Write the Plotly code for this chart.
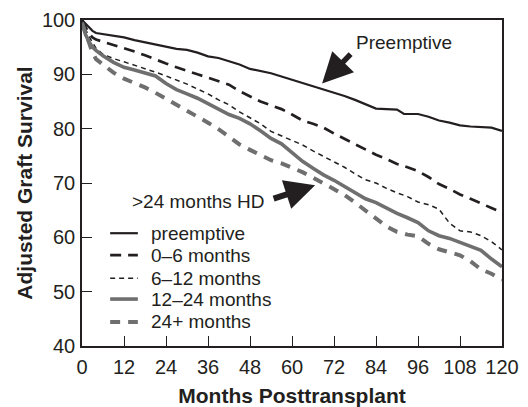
import plotly.graph_objects as go

months_pre = [0, 1, 2, 3, 4, 6, 9, 12, 15, 18, 21, 24, 27, 30, 33, 36, 39, 42, 45, 48, 51, 54, 57, 60,
              63, 66, 69, 72, 75, 78, 81, 84, 87, 90, 92, 96, 99, 102, 105, 108, 111, 114, 117, 120]
preemptive = [100, 99.3, 98.6, 98.0, 97.6, 97.4, 97.1, 96.8, 96.3, 95.9, 95.5, 95.2, 94.7, 94.5, 94.0,
              93.3, 93.0, 92.4, 91.8, 91.0, 90.6, 90.2, 89.6, 89.0, 88.4, 87.9, 87.3, 86.7, 86.0, 85.3,
              84.5, 83.7, 83.6, 83.5, 82.7, 82.7, 82.2, 81.5, 81.1, 80.6, 80.4, 80.3, 80.2, 79.6]

months = [0, 1, 2, 3, 4, 6, 9, 12, 15, 18, 21, 24, 27, 30, 33, 36, 39, 42, 45, 48, 51, 54, 57, 60,
          63, 66, 69, 72, 75, 78, 81, 84, 87, 90, 93, 96, 99, 102, 105, 108, 111, 114, 117, 120]
m0_6 = [100, 98.6, 97.5, 96.8, 96.4, 96.0, 95.4, 94.9, 94.2, 93.5, 92.7, 92.0, 91.3, 90.6, 90.0,
        89.4, 88.7, 88.1, 86.9, 85.9, 85.0, 84.3, 83.6, 82.6, 81.5, 80.9, 80.2, 79.1, 78.1, 77.1,
        76.2, 75.2, 74.4, 73.5, 72.9, 72.2, 71.1, 69.8, 68.9, 67.9, 67.1, 66.2, 65.4, 64.6]
m6_12 = [100, 98.3, 97.0, 95.8, 94.8, 93.7, 92.9, 92.3, 91.7, 91.0, 90.4, 89.7, 89.0, 88.2, 87.3,
         86.4, 85.3, 84.4, 83.1, 82.0, 80.9, 79.5, 78.7, 77.8, 77.0, 75.9, 74.9, 73.9, 72.9, 71.7,
         70.6, 70.0, 69.0, 68.2, 67.5, 66.5, 66.0, 65.2, 62.6, 61.2, 61.0, 60.3, 59.2, 57.7]
m12_24 = [99.5, 97.3, 96.0, 95.0, 94.4, 93.4, 92.2, 91.3, 90.8, 90.3, 89.7, 88.3, 87.2, 86.4, 85.6,
          84.6, 83.6, 82.6, 81.9, 80.9, 79.6, 78.2, 77.2, 75.6, 74.0, 72.7, 71.5, 70.5, 69.4, 68.3,
          67.1, 66.4, 65.4, 64.4, 63.6, 62.7, 61.2, 60.3, 59.8, 59.1, 58.3, 57.6, 56.0, 54.6]
m24_plus = [99.5, 97.5, 95.5, 94.0, 92.8, 91.8, 90.3, 89.2, 88.4, 87.6, 86.6, 85.5, 84.6, 83.5, 82.4,
            81.1, 79.9, 78.4, 77.1, 76.1, 75.2, 74.2, 73.6, 72.8, 72.0, 71.0, 70.0, 69.0, 67.8, 66.4,
            65.0, 63.5, 62.0, 61.0, 60.5, 60.2, 58.8, 57.8, 57.3, 56.7, 55.6, 54.1, 53.3, 52.2]

series_names = ["preemptive", "0\u20136 months", "6\u201312 months", "12\u201324 months", "24+ months"]
x_ticks = [0, 12, 24, 36, 48, 60, 72, 84, 96, 108, 120]
y_ticks = [40, 50, 60, 70, 80, 90, 100]

INK = "#231f20"
GRAY = "#6f6f6f"
styles = [
    dict(color=INK, width=2.2, dash="solid"),
    dict(color=INK, width=2.7, dash="11px,7px"),
    dict(color=INK, width=1.5, dash="5px,4px"),
    dict(color=GRAY, width=3.6, dash="solid"),
    dict(color=GRAY, width=4, dash="10px,8px"),
]
xs = [months_pre, months, months, months, months]
ys = [preemptive, m0_6, m6_12, m12_24, m24_plus]

fig = go.Figure()
for name, x, y, st in zip(series_names, xs, ys, styles):
    fig.add_trace(go.Scatter(x=x, y=y, name=name, mode="lines", line=st, showlegend=False))

FONT = "Liberation Sans, Arial, Helvetica, sans-serif"

# manual legend (compact row spacing like the reference)
leg_rows = [0.346, 0.279, 0.208, 0.144, 0.074]
for name, st, py in zip(series_names, styles, leg_rows):
    fig.add_shape(type="line", xref="paper", yref="paper", x0=0.067, x1=0.133, y0=py, y1=py,
                  line=st)
    fig.add_annotation(xref="paper", yref="paper", x=0.159, y=py, text=name, showarrow=False,
                       xanchor="left", yanchor="middle", font=dict(size=19, color=INK, family=FONT))

# annotations
fig.add_annotation(x=92, y=95.95, text="Preemptive", showarrow=False,
                   font=dict(size=19, color=INK, family=FONT))
fig.add_annotation(x=68.6, y=88.3, text="", showarrow=True, ax=30, ay=-31,
                   arrowhead=2, arrowwidth=5.5, arrowsize=1.1, arrowcolor=INK, standoff=0)
fig.add_annotation(x=33.4, y=66.55, text=">24 months HD", showarrow=False,
                   font=dict(size=19, color=INK, family=FONT))
fig.add_annotation(x=66.6, y=69.6, text="", showarrow=True, ax=-43, ay=14,
                   arrowhead=2, arrowwidth=6, arrowsize=1.0, arrowcolor=INK, standoff=0)

fig.update_layout(
    width=528, height=407,
    margin=dict(l=82, r=26, t=20, b=61),
    paper_bgcolor="white", plot_bgcolor="white",
    font=dict(family=FONT, color=INK, size=20),
    showlegend=False,
)
fig.update_xaxes(range=[0, 120], tickvals=x_ticks, ticks="inside", ticklen=10, tickwidth=1.3,
                 tickcolor=INK, showline=True, linecolor=INK, linewidth=1.5, mirror=True,
                 showgrid=False, zeroline=False, tickfont=dict(size=20), automargin=False,
                 ticklabelstandoff=2,
                 title=dict(text="<b>Months Posttransplant</b>", font=dict(size=21), standoff=13))
fig.update_yaxes(range=[40, 100], tickvals=y_ticks, ticks="inside", ticklen=10, tickwidth=1.3,
                 tickcolor=INK, showline=True, linecolor=INK, linewidth=1.5, mirror=True,
                 showgrid=False, zeroline=False, tickfont=dict(size=20), automargin=False,
                 ticklabelstandoff=1,
                 title=dict(text="<b>Adjusted Graft Survival</b>", font=dict(size=21), standoff=4))

fig.write_html("out.html", config={"displayModeBar": False},
               post_script="document.body.style.margin='0';")
